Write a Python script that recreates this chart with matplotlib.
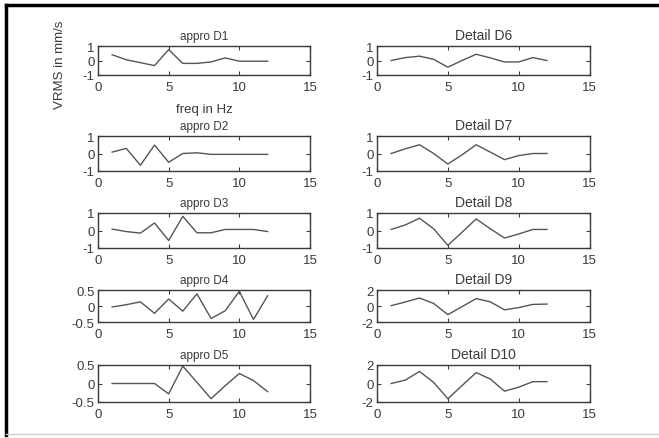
import matplotlib
matplotlib.use("Agg")
from matplotlib import pyplot as plt
from matplotlib.lines import Line2D
import numpy as np

freq = np.arange(1, 13)

# approximations (left column)
appro_d1 = [0.4, 0.05, -0.15, -0.35, 0.75, -0.2, -0.2, -0.1, 0.18, -0.05, -0.05, -0.05]
appro_d2 = [0.08, 0.29, -0.67, 0.48, -0.5, 0.0, 0.04, -0.05, -0.05, -0.05, -0.05, -0.05]
appro_d3 = [0.08, -0.06, -0.15, 0.43, -0.57, 0.81, -0.13, -0.13, 0.06, 0.06, 0.06, -0.06]
appro_d4 = [-0.03, 0.04, 0.13, -0.23, 0.22, -0.16, 0.38, -0.39, -0.15, 0.46, -0.42, 0.32]
appro_d5 = [0.0, 0.0, 0.0, 0.0, -0.28, 0.47, 0.03, -0.41, -0.06, 0.27, 0.08, -0.22]

# details (right column)
detail_d6 = [0.0, 0.2, 0.3, 0.08, -0.46, 0.0, 0.43, 0.18, -0.1, -0.1, 0.2, 0.0]
detail_d7 = [0.0, 0.27, 0.5, 0.0, -0.6, -0.08, 0.5, 0.08, -0.35, -0.12, 0.0, 0.0]
detail_d8 = [0.06, 0.32, 0.7, 0.1, -0.85, -0.1, 0.66, 0.1, -0.43, -0.2, 0.06, 0.06]
detail_d9 = [0.04, 0.5, 1.0, 0.32, -1.08, -0.08, 0.92, 0.52, -0.48, -0.2, 0.2, 0.24]
detail_d10 = [0.0, 0.37, 1.3, 0.12, -1.65, -0.23, 1.18, 0.48, -0.83, -0.4, 0.2, 0.2]

left_titles = ["appro D1", "appro D2", "appro D3", "appro D4", "appro D5"]
right_titles = ["Detail D6", "Detail D7", "Detail D8", "Detail D9", "Detail D10"]
left_series = [appro_d1, appro_d2, appro_d3, appro_d4, appro_d5]
right_series = [detail_d6, detail_d7, detail_d8, detail_d9, detail_d10]
left_ylims = [1, 1, 1, 0.5, 0.5]
right_ylims = [1, 1, 1, 2, 2]
xticks = [0, 5, 10, 15]

W, H = 659, 439
fig = plt.figure(figsize=(W / 100, H / 100), dpi=100)
fig.patch.set_facecolor("white")
plt.rcParams["font.family"] = ["Liberation Sans", "DejaVu Sans"]

# pixel rows (top, bottom) of each axes box
rows = [(47, 76), (137, 172), (214, 249), (291, 323), (366, 403)]
cols = [(98, 310), (377, 589.5)]

ink = "#3a3a3a"

def make_axes(col, row):
    x0, x1 = cols[col]
    t, b = rows[row]
    return fig.add_axes([x0 / W, 1 - b / H, (x1 - x0) / W, (b - t) / H])

def style(ax, lim, title, tsize):
    ax.set_xlim(0, 15)
    ax.set_ylim(-lim, lim)
    ax.set_xticks(xticks)
    if lim == 0.5:
        ax.set_yticks([-0.5, 0, 0.5])
        ax.set_yticklabels(["-0.5", "0", "0.5"])
    else:
        ax.set_yticks([-lim, 0, lim])
        ax.set_yticklabels([f"{-lim:g}", "0", f"{lim:g}"])
    ax.tick_params(direction="in", top=True, right=True, length=3,
                   width=0.8, colors=ink, labelsize=9.5)
    ax.tick_params(axis="x", pad=4.5)
    ax.tick_params(axis="y", pad=2.5)
    for s in ax.spines.values():
        s.set_color(ink)
        s.set_linewidth(1.0)
    ax.set_title(title, fontsize=tsize, color=ink, pad=5)

for i in range(5):
    ax = make_axes(0, i)
    ax.plot(freq, left_series[i], color="#555555", linewidth=1.0)
    style(ax, left_ylims[i], left_titles[i], 8.5)
    if i == 0:
        ax.set_ylabel("VRMS in mm/s", fontsize=9.5, color=ink)
        ax.yaxis.set_label_coords(-0.15, 0.4)
        ax.set_xlabel("freq in Hz", fontsize=9.5, color=ink)
        ax.xaxis.set_label_coords(0.5, -0.97)

    ax = make_axes(1, i)
    ax.plot(freq, right_series[i], color="#555555", linewidth=1.0)
    style(ax, right_ylims[i], right_titles[i], 10)

# screenshot frame
fig.add_artist(Line2D([6 / W, 1], [1 - 6 / H, 1 - 6 / H], color="black", linewidth=2.5))
fig.add_artist(Line2D([6 / W, 6 / W], [1 - 6 / H, 3 / H], color="black", linewidth=2.5))
fig.add_artist(Line2D([6 / W, 1], [4 / H, 4 / H], color="#cccccc", linewidth=1.0))

fig.savefig("out.png", dpi=100)
